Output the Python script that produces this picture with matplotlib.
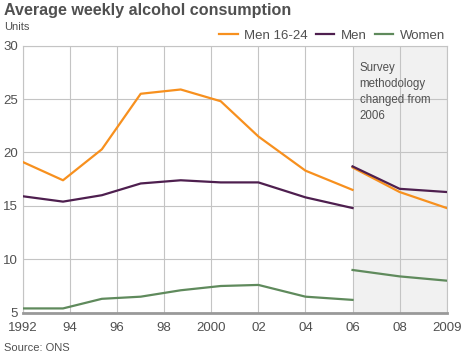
import matplotlib
matplotlib.use("Agg")
import matplotlib.pyplot as plt

plt.rcParams['font.family'] = ['Liberation Sans', 'DejaVu Sans']

# Data (x positions on the chart's year scale)
years_before = [1992, 1993.7, 1995.35, 1997.0, 1998.7, 2000.4, 2002.0, 2004.0, 2006.0]
years_after = [2006.0, 2008.0, 2010.0]

men_16_24_before = [19.1, 17.4, 20.3, 25.5, 25.9, 24.8, 21.5, 18.3, 16.5]
men_before = [15.9, 15.4, 16.0, 17.1, 17.4, 17.2, 17.2, 15.8, 14.8]
women_before = [5.4, 5.4, 6.3, 6.5, 7.1, 7.5, 7.6, 6.5, 6.2]

men_16_24_after = [18.6, 16.3, 14.8]
men_after = [18.7, 16.6, 16.3]
women_after = [9.0, 8.4, 8.0]

tick_positions = [1992, 1994, 1996, 1998, 2000, 2002, 2004, 2006, 2008, 2010]
tick_labels = ['1992', '94', '96', '98', '2000', '02', '04', '06', '08', '2009']
y_ticks = [5, 10, 15, 20, 25, 30]

series_names = ['Men 16-24', 'Men', 'Women']
colors = ['#f7901e', '#4e1f4f', '#5f8a5c']

text_col = '#505050'
grid_col = '#c4c4c4'

fig = plt.figure(figsize=(4.64, 3.55), dpi=100)
ax = fig.add_axes([23/464, 1-312.7/355, (446.7-23)/464, (312.7-45.7)/355])

ax.axvspan(2006, 2010, color='#f1f1f1', zorder=0, lw=0)

before = [men_16_24_before, men_before, women_before]
after = [men_16_24_after, men_after, women_after]
for name, col, b, a in zip(series_names, colors, before, after):
    ax.plot(years_before, b, color=col, lw=1.6, label=name, zorder=3)
    ax.plot(years_after, a, color=col, lw=1.6, zorder=3)

ax.set_xlim(1992, 2010)
ax.set_ylim(5, 30)
ax.set_xticks(tick_positions)
ax.set_xticklabels(tick_labels)
ax.set_yticks(y_ticks)
ax.grid(True, color=grid_col, lw=0.8, zorder=1)
ax.set_axisbelow(True)
for s in ['left', 'right', 'top']:
    ax.spines[s].set_color(grid_col)
    ax.spines[s].set_linewidth(0.8)
ax.spines['bottom'].set_color('#999999')
ax.spines['bottom'].set_linewidth(2)
ax.tick_params(axis='both', length=0, labelsize=9.5, colors=text_col)
ax.tick_params(axis='x', pad=7)
ax.tick_params(axis='y', pad=3.5)

ax.text(2006.3, 28.5, 'Survey\nmethodology\nchanged from\n2006', fontsize=8.3,
        color=text_col, va='top', ha='left', linespacing=1.45)

fig.text(4/464, 1-11/355, 'Average weekly alcohol consumption', fontsize=11.6,
         fontweight='bold', color=text_col, va='center', ha='left')
fig.text(4/464, 1-27/355, 'Units', fontsize=8, color=text_col, va='center', ha='left')
fig.text(4/464, 1-348/355, 'Source: ONS', fontsize=8, color=text_col, va='center', ha='left')

leg = ax.legend(loc='lower right', bbox_to_anchor=(1.005, 1.0), ncol=3, frameon=False,
                fontsize=9.5, handlelength=1.4, handletextpad=0.5, columnspacing=0.6,
                borderaxespad=0.2, borderpad=0.1)
for t in leg.get_texts():
    t.set_color(text_col)

fig.savefig('out.png', dpi=100)
